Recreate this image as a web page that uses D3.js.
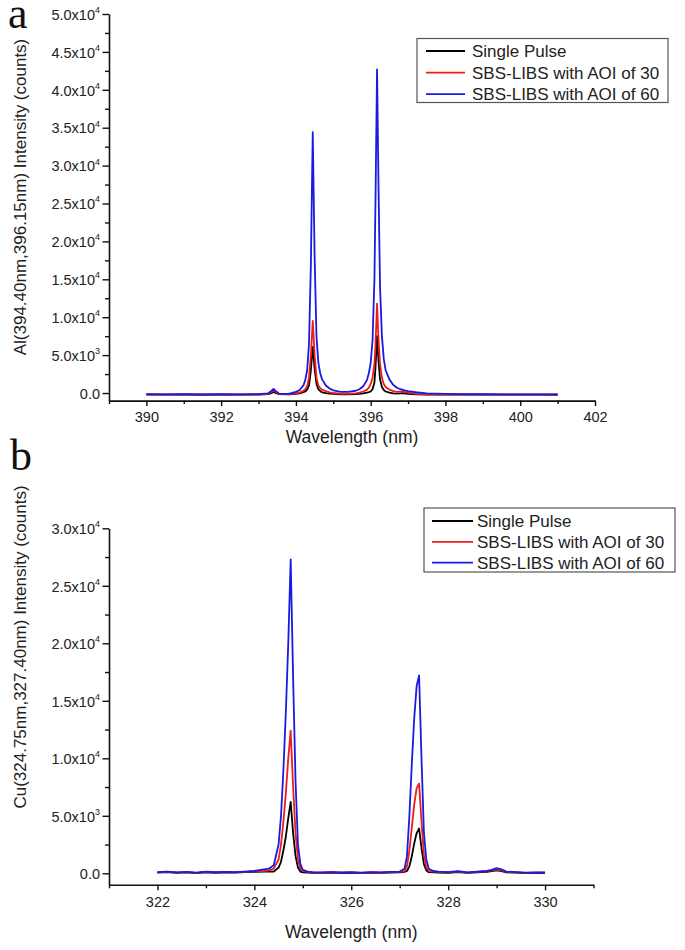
<!DOCTYPE html>
<html>
<head>
<meta charset="utf-8">
<script src="https://cdn.jsdelivr.net/npm/d3@7"></script>
<style>
  html, body { margin: 0; padding: 0; background: #fff; }
  svg { display: block; font-family: "Liberation Sans", Arial, sans-serif; }
</style>
</head>
<body>
<svg id="chart" width="685" height="950"></svg>
<script>
// ---------------- DATA ----------------
const seriesNames = ["Single Pulse", "SBS-LIBS with AOI of 30", "SBS-LIBS with AOI of 60"];
const seriesColors = ["#000000", "#ee1c1c", "#1a1ae0"];

// Panel a: Al lines
const alWavelength = [390.0, 390.5, 391.0, 391.5, 392.0, 392.5, 393.0, 393.25, 393.35, 393.4, 393.45, 393.55, 393.8, 394.0, 394.1, 394.2, 394.25, 394.3, 394.35, 394.4, 394.45, 394.5, 394.55, 394.6, 394.65, 394.7, 394.8, 394.9, 395.0, 395.2, 395.4, 395.6, 395.7, 395.8, 395.9, 395.95, 396.0, 396.05, 396.1, 396.13, 396.17, 396.21, 396.25, 396.3, 396.35, 396.4, 396.5, 396.6, 396.7, 396.8, 396.85, 396.9, 397.0, 397.2, 397.5, 398.0, 398.5, 399.0, 399.5, 400.0, 400.5, 401.0];
const alSingle = [-200, -220, -200, -230, -210, -220, -200, -150, 0, 150, 20, -150, -180, -120, -60, 100, 200, 450, 1000, 3000, 6100, 3200, 1200, 500, 250, 100, 0, -80, -120, -170, -170, -150, -120, -60, 50, 120, 200, 500, 1400, 3500, 7500, 4200, 1800, 800, 400, 200, 50, -40, -80, -60, 0, -60, -120, -170, -200, -210, -220, -200, -220, -210, -220, -230];
const alAOI30 = [-180, -200, -190, -210, -200, -200, -180, -100, 150, 350, 150, -120, -150, -60, 50, 300, 500, 900, 2000, 5000, 9500, 5000, 2000, 1000, 650, 450, 250, 100, 0, -100, -110, -60, 50, 200, 450, 700, 1200, 2000, 3800, 6500, 11800, 7000, 3800, 2000, 1200, 800, 450, 250, 150, 200, 250, 150, 50, -100, -160, -190, -200, -190, -200, -200, -210, -210];
const alAOI60 = [-150, -170, -160, -180, -160, -170, -150, -50, 300, 550, 300, -80, -120, 150, 400, 1000, 1700, 3000, 6500, 17000, 34400, 18000, 7500, 4000, 2600, 1800, 1000, 600, 350, 150, 150, 300, 500, 900, 1700, 2600, 4000, 7000, 15000, 26000, 42700, 27000, 14000, 7500, 4500, 3000, 1800, 1100, 700, 500, 450, 350, 250, 100, -50, -120, -150, -160, -170, -170, -180, -180];

// Panel b: Cu lines
const cuWavelength = [322.0, 322.2, 322.4, 322.6, 322.8, 323.0, 323.2, 323.4, 323.6, 323.8, 324.0, 324.2, 324.3, 324.4, 324.5, 324.55, 324.6, 324.65, 324.7, 324.75, 324.8, 324.85, 324.9, 324.95, 325.0, 325.1, 325.2, 325.4, 325.6, 325.8, 326.0, 326.2, 326.4, 326.6, 326.8, 327.0, 327.1, 327.15, 327.2, 327.25, 327.3, 327.35, 327.4, 327.45, 327.5, 327.55, 327.6, 327.7, 327.8, 328.0, 328.2, 328.4, 328.6, 328.8, 328.9, 329.0, 329.1, 329.2, 329.4, 329.6, 329.8, 330.0];
const cuSingle = [50, 100, 30, 80, 20, 90, 40, 80, 50, 100, 120, 150, 150, 150, 500, 1000, 2000, 3200, 4800, 6200, 3500, 1500, 500, 150, 80, 60, 40, 30, 60, 20, 40, 10, 50, 30, 60, 80, 120, 200, 600, 1500, 2600, 3500, 3900, 2200, 800, 250, 100, 80, 60, 40, 100, 30, 80, 120, 180, 250, 180, 80, 50, 20, 30, 20];
const cuAOI30 = [80, 130, 60, 100, 40, 120, 70, 110, 80, 130, 160, 200, 250, 400, 1200, 2500, 4500, 7000, 10000, 12400, 7500, 3500, 1200, 400, 200, 120, 80, 60, 90, 50, 70, 40, 80, 60, 100, 120, 200, 600, 2000, 4000, 6000, 7400, 7800, 4500, 1600, 500, 200, 150, 120, 80, 150, 60, 120, 180, 250, 320, 250, 120, 80, 40, 60, 50];
const cuAOI60 = [100, 150, 80, 120, 60, 140, 90, 130, 100, 150, 200, 350, 400, 700, 2500, 5000, 9000, 14000, 20000, 27300, 17000, 8000, 2500, 800, 300, 150, 100, 80, 110, 70, 90, 60, 100, 80, 120, 150, 400, 1500, 5000, 9500, 13500, 16300, 17200, 10000, 3500, 1200, 400, 200, 150, 100, 180, 80, 150, 200, 300, 450, 350, 150, 100, 60, 80, 70];

// Axis tick values
const alXTicks = [390, 392, 394, 396, 398, 400, 402];
const alYTicks = [0, 5000, 10000, 15000, 20000, 25000, 30000, 35000, 40000, 45000, 50000];
const cuXTicks = [322, 324, 326, 328, 330];
const cuYTicks = [0, 5000, 10000, 15000, 20000, 25000, 30000];

// ---------------- DRAW ----------------
const svg = d3.select("#chart");

function fmtY(v) {
  if (v === 0) return { base: "0.0", exp: null };
  const e = Math.floor(Math.log10(v));
  const m = v / Math.pow(10, e);
  return { base: m.toFixed(1) + "x10", exp: String(e) };
}

function panel(cfg) {
  const x = d3.scaleLinear().domain(cfg.xDomain).range([cfg.left, cfg.right]);
  const y = d3.scaleLinear().domain(cfg.yDomain).range([cfg.bottom, cfg.top]);
  const g = svg.append("g");

  // x axis
  const xMinor = d3.range(cfg.xDomain[0], cfg.xDomain[1] + 0.001, 1).filter(v => cfg.xTicks.indexOf(v) < 0);
  g.append("g").attr("transform", `translate(0,${cfg.bottom})`)
    .call(d3.axisBottom(x).tickValues(xMinor).tickSize(3.5).tickFormat(""))
    .call(a => a.select(".domain").remove())
    .call(a => a.selectAll("line").attr("stroke", "#111").attr("stroke-width", 1.4));
  const xa = g.append("g").attr("transform", `translate(0,${cfg.bottom})`)
    .call(d3.axisBottom(x).tickValues(cfg.xTicks).tickSize(5.5).tickSizeOuter(0).tickPadding(6).tickFormat(d3.format("d")));
  xa.select(".domain").attr("stroke", "#111").attr("stroke-width", 1.6);
  xa.selectAll("line").attr("stroke", "#111").attr("stroke-width", 1.4);
  xa.selectAll("text").attr("font-size", 14.5).attr("fill", "#222")
    .attr("font-family", "Liberation Sans, Arial, sans-serif");

  // y axis minor ticks
  const step = cfg.yTicks[1] - cfg.yTicks[0];
  const yMinor = cfg.yTicks.slice(0, -1).map(v => v + step / 2);
  g.append("g").attr("transform", `translate(${cfg.left},0)`)
    .call(d3.axisLeft(y).tickValues(yMinor).tickSize(4).tickFormat(""))
    .call(a => a.select(".domain").remove())
    .call(a => a.selectAll("line").attr("stroke", "#111").attr("stroke-width", 1.4));
  const ya = g.append("g").attr("transform", `translate(${cfg.left},0)`)
    .call(d3.axisLeft(y).tickValues(cfg.yTicks).tickSize(6.5).tickSizeOuter(0).tickPadding(4).tickFormat(""));
  ya.select(".domain").attr("stroke", "#111").attr("stroke-width", 1.6);
  ya.selectAll("line").attr("stroke", "#111").attr("stroke-width", 1.4);
  ya.selectAll(".tick").each(function (d) {
    const f = fmtY(d);
    const t = d3.select(this).append("text")
      .attr("x", -9).attr("dy", "0.36em")
      .attr("text-anchor", "end")
      .attr("font-size", 14.5).attr("fill", "#222");
    t.append("tspan").text(f.base);
    if (f.exp) {
      t.append("tspan").attr("font-size", 9).attr("dy", "-0.75em").text(f.exp);
    }
  });

  // axis labels
  g.append("text")
    .attr("x", (cfg.left + cfg.right) / 2).attr("y", cfg.xLabelY)
    .attr("text-anchor", "middle").attr("font-size", 17.5).attr("fill", "#222")
    .text("Wavelength (nm)");
  g.append("text")
    .attr("transform", `translate(${cfg.yLabelX},${cfg.yLabelCY}) rotate(-90)`)
    .attr("text-anchor", "middle").attr("font-size", 17).attr("fill", "#222")
    .text(cfg.yLabel);

  // panel letter
  g.append("text").attr("x", cfg.letterX).attr("y", cfg.letterY)
    .attr("font-family", "Liberation Serif, Times New Roman, serif")
    .attr("font-size", 44).attr("fill", "#111").text(cfg.letter);

  // lines
  const line = d3.line().x(d => x(d[0])).y(d => y(d[1]));
  cfg.series.forEach((vals, i) => {
    const pts = cfg.xs.map((w, k) => [w, vals[k]]);
    g.append("path").datum(pts)
      .attr("d", line).attr("fill", "none")
      .attr("stroke", seriesColors[i]).attr("stroke-width", 1.8)
      .attr("stroke-linejoin", "round");
  });

  // legend
  const L = cfg.legend;
  g.append("rect").attr("x", L.x).attr("y", L.y).attr("width", L.w).attr("height", L.h)
    .attr("fill", "#fff").attr("stroke", "#555").attr("stroke-width", 1.2);
  seriesNames.forEach((name, i) => {
    const cy = L.y + L.first + i * L.gap;
    g.append("line").attr("x1", L.lx1).attr("x2", L.lx2).attr("y1", cy).attr("y2", cy)
      .attr("stroke", seriesColors[i]).attr("stroke-width", 1.8);
    g.append("text").attr("x", L.tx).attr("y", cy).attr("dy", "0.35em")
      .attr("font-size", 17).attr("fill", "#222").text(name);
  });
}

panel({
  xDomain: [389, 402], yDomain: [-1000, 50000],
  left: 109, right: 595, top: 14, bottom: 400.6,
  xTicks: alXTicks, yTicks: alYTicks,
  xLabelY: 443, yLabelX: 26, yLabelCY: 197,
  yLabel: "Al(394.40nm,396.15nm) Intensity (counts)",
  letter: "a", letterX: 8, letterY: 28,
  xs: alWavelength, series: [alSingle, alAOI30, alAOI60],
  legend: { x: 417, y: 38.5, w: 251, h: 64, first: 12.5, gap: 21.6, lx1: 426, lx2: 465, tx: 472 }
});

panel({
  xDomain: [321, 331], yDomain: [-1000, 30000],
  left: 109, right: 593.5, top: 528.3, bottom: 884.8,
  xTicks: cuXTicks, yTicks: cuYTicks,
  xLabelY: 938, yLabelX: 26, yLabelCY: 647,
  yLabel: "Cu(324.75nm,327.40nm) Intensity (counts)",
  letter: "b", letterX: 10, letterY: 470,
  xs: cuWavelength, series: [cuSingle, cuAOI30, cuAOI60],
  legend: { x: 424, y: 508, w: 251, h: 64, first: 13, gap: 20.8, lx1: 432, lx2: 473, tx: 477 }
});
</script>
</body>
</html>
